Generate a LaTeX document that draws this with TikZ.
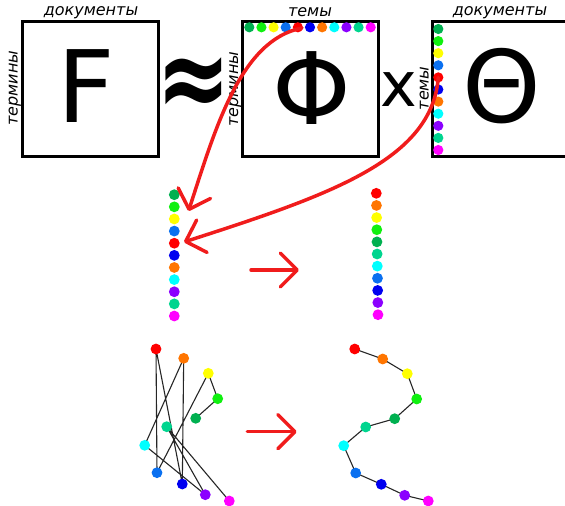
\documentclass[tikz,border=0pt]{standalone}
\usepackage{fontspec}
\setmainfont{DejaVu Sans}[ItalicFont={DejaVu Sans Oblique},BoldFont={DejaVu Sans Bold}]
\usetikzlibrary{arrows.meta}
\definecolor{dkg}{HTML}{00B050}
\definecolor{grn}{HTML}{10F010}
\definecolor{yel}{HTML}{FFFF00}
\definecolor{azu}{HTML}{0A70F0}
\definecolor{rd}{HTML}{FF0000}
\definecolor{blu}{HTML}{0000F0}
\definecolor{ora}{HTML}{FF7500}
\definecolor{cya}{HTML}{00FFFF}
\definecolor{pur}{HTML}{8B00FF}
\definecolor{tea}{HTML}{00D58F}
\definecolor{mag}{HTML}{FF00FF}
\definecolor{arrred}{HTML}{F01C1C}
\begin{document}
\begin{tikzpicture}[x=1pt,y=-1pt,
  dot/.style={circle,inner sep=0pt,minimum size=10.8pt,fill=#1},
  sdot/.style={circle,inner sep=0pt,minimum size=10.2pt,fill=#1},
  mbox/.style={draw,line width=3pt,inner sep=0pt},
  lbl/.style={font=\fontsize{16}{16}\selectfont\itshape,inner sep=0pt},
  big/.style={font=\fontsize{100}{100}\selectfont,inner sep=0pt},
  redarr/.style={draw=arrred,line width=3.5pt,line cap=round,-{Straight Barb[length=17pt,width=34pt,round]}},
  link/.style={draw=black!85,line width=1.1pt}
]
\useasboundingbox (0,0) rectangle (565,506);
\clip (0,0) rectangle (565,506);

% boxes
\node[mbox,minimum width=136pt,minimum height=135pt] (Fbox) at (90.5,89) {};
\node[mbox,minimum width=136.5pt,minimum height=135pt] (Phbox) at (310.25,89) {};
\node[mbox,minimum width=167.5pt,minimum height=135pt] (Thbox) at (516.25,89) {};

% big letters
\node[big,anchor=base] (Fl) at (86,122) {F};
\node[big,anchor=base] (Phl) at (311.5,124) {Φ};
\node[big,anchor=base] (Thl) at (502,122) {Θ};
\node[font=\fontsize{89}{89}\selectfont\bfseries,inner sep=0pt,yscale=1.3] (approx) at (194,87.5) {≈};
\node[font=\fontsize{62}{62}\selectfont,inner sep=0pt] (times) at (399,89.5) {x};

% labels
\node[lbl,anchor=base] (docF) at (91,16) {документы};
\node[lbl,anchor=base] (temPh) at (310,16.5) {темы};
\node[lbl,anchor=base] (docTh) at (500,16) {документы};
\node[lbl,anchor=base,rotate=90] (terF) at (17.5,88.3) {термины};
\node[lbl,anchor=base,rotate=90] (terPh) at (238,89) {термины};
\node[lbl,anchor=base,rotate=90] (temTh) at (428.5,88.3) {темы};

% dots: Phi row, Theta column, left column
\foreach \c [count=\i from 0] in {dkg,grn,yel,azu,rd,blu,ora,cya,pur,tea,mag} {
  \node[sdot=\c] (ph\i) at ({249.3+12.14*\i},27.3) {};
  \node[sdot=\c] (th\i) at (438.3,{29+12.1*\i}) {};
  \node[dot=\c] (lc\i) at (174.3,{194.7+12.13*\i}) {};
}
\foreach \c [count=\i from 0] in {rd,ora,yel,grn,dkg,tea,cya,azu,blu,pur,mag} {
  \node[dot=\c] (rc\i) at ({376.3+0.17*\i},{193.3+12.14*\i}) {};
}

% left graph
\coordinate (Lrd) at (156,349);
\coordinate (Lora) at (183.7,358.3);
\coordinate (Lyel) at (208.3,373.3);
\coordinate (Lgrn) at (217.7,398.7);
\coordinate (Ldkg) at (195.7,418.3);
\coordinate (Ltea) at (166.7,426.7);
\coordinate (Lcya) at (144.7,445.3);
\coordinate (Lazu) at (157,472.7);
\coordinate (Lblu) at (182.3,484);
\coordinate (Lpur) at (205.3,494.7);
\coordinate (Lmag) at (229.3,501);
\draw[link] (Ldkg) -- (Lgrn) -- (Lyel) -- (Lazu) -- (Lrd) -- (Lblu) -- (Lora) -- (Lcya) -- (Lpur) -- (Ltea) -- (Lmag);
\foreach \c in {rd,ora,yel,grn,dkg,tea,cya,azu,blu,pur,mag} {
  \node[dot=\c] (nL\c) at (L\c) {};
}

% right graph
\coordinate (Rrd) at (354.7,349);
\coordinate (Rora) at (382.7,359);
\coordinate (Ryel) at (407.3,373.7);
\coordinate (Rgrn) at (416.7,399);
\coordinate (Rdkg) at (394.7,418.7);
\coordinate (Rtea) at (365.7,427);
\coordinate (Rcya) at (343.7,445.7);
\coordinate (Razu) at (355.7,473);
\coordinate (Rblu) at (381.3,484.3);
\coordinate (Rpur) at (404.7,495.3);
\coordinate (Rmag) at (428.3,501);
\draw[link] (Rrd) -- (Rora) -- (Ryel) -- (Rgrn) -- (Rdkg) -- (Rtea) -- (Rcya) -- (Razu) -- (Rblu) -- (Rpur) -- (Rmag);
\foreach \c in {rd,ora,yel,grn,dkg,tea,cya,azu,blu,pur,mag} {
  \node[dot=\c] (nR\c) at (R\c) {};
}

% red arrows
\coordinate (c1s) at (302,28);
\coordinate (c1e) at (188.5,211);
\coordinate (c2e) at (184,242);
\draw[redarr] (c1s) .. controls (240,40) and (215,130) .. (c1e);
\draw[redarr] (th4.center) .. controls (432,160) and (330,195) .. (c2e);
\coordinate (a1s) at (251,270);
\coordinate (a1e) at (299,270);
\coordinate (a2s) at (247.3,431.7);
\coordinate (a2e) at (296.7,431.7);
\draw[redarr] (a1s) -- (a1e);
\draw[redarr] (a2s) -- (a2e);
\end{tikzpicture}
\end{document}
